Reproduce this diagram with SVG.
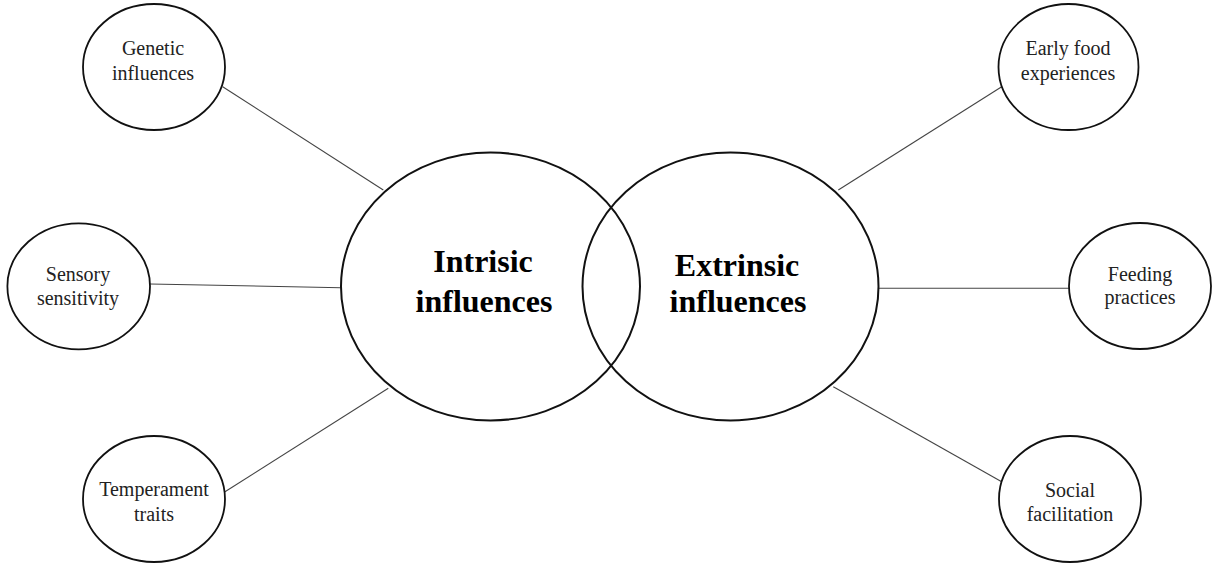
<svg xmlns="http://www.w3.org/2000/svg" width="1212" height="563" viewBox="0 0 1212 563">
<style>
.node{fill:none;stroke:#111;stroke-width:1.8}
.big{fill:none;stroke:#111;stroke-width:2}
.lbl{font-family:"Liberation Serif","Times New Roman",serif;font-size:20px;fill:#222;text-anchor:middle}
.blbl{font-family:"Liberation Serif","Times New Roman",serif;font-size:32px;font-weight:bold;fill:#000;text-anchor:middle}
.conn line{stroke:#444;stroke-width:1.1}
</style>
<rect width="1212" height="563" fill="#fff"/>
<g id="connectors" class="conn">
<line x1="222.7" y1="86.7" x2="383.3" y2="190"/>
<line x1="150" y1="284" x2="341" y2="287.7"/>
<line x1="225" y1="491.7" x2="388.3" y2="388.3"/>
<line x1="1001.7" y1="86.7" x2="838.3" y2="190"/>
<line x1="878.5" y1="288.3" x2="1069" y2="288.3"/>
<line x1="833.3" y1="386.7" x2="1001.7" y2="481.7"/>
</g>
<g id="intrinsic">
<ellipse class="big" cx="490.5" cy="286.5" rx="149.5" ry="134"/>
<text class="blbl" x="483" y="272">Intrisic</text>
<text class="blbl" x="484" y="312">influences</text>
</g>
<g id="extrinsic">
<ellipse class="big" cx="730.5" cy="286.5" rx="148" ry="134"/>
<text class="blbl" x="737" y="276">Extrinsic</text>
<text class="blbl" x="738" y="312">influences</text>
</g>
<g id="genetic">
<ellipse class="node" cx="154" cy="67" rx="71" ry="63"/>
<text class="lbl" x="153" y="55">Genetic</text>
<text class="lbl" x="153" y="80">influences</text>
</g>
<g id="sensory">
<ellipse class="node" cx="78.7" cy="286.3" rx="71.3" ry="63"/>
<text class="lbl" x="78" y="281">Sensory</text>
<text class="lbl" x="78" y="305">sensitivity</text>
</g>
<g id="temperament">
<ellipse class="node" cx="154" cy="499" rx="71" ry="63"/>
<text class="lbl" x="154" y="496">Temperament</text>
<text class="lbl" x="154" y="520.5">traits</text>
</g>
<g id="early-food">
<ellipse class="node" cx="1068.5" cy="67" rx="70" ry="63"/>
<text class="lbl" x="1068" y="55">Early food</text>
<text class="lbl" x="1068" y="80">experiences</text>
</g>
<g id="feeding">
<ellipse class="node" cx="1140" cy="286" rx="71" ry="63"/>
<text class="lbl" x="1140" y="281">Feeding</text>
<text class="lbl" x="1140" y="303.5">practices</text>
</g>
<g id="social">
<ellipse class="node" cx="1070" cy="499" rx="71" ry="63"/>
<text class="lbl" x="1070" y="496.5">Social</text>
<text class="lbl" x="1070" y="520.5">facilitation</text>
</g>
</svg>
